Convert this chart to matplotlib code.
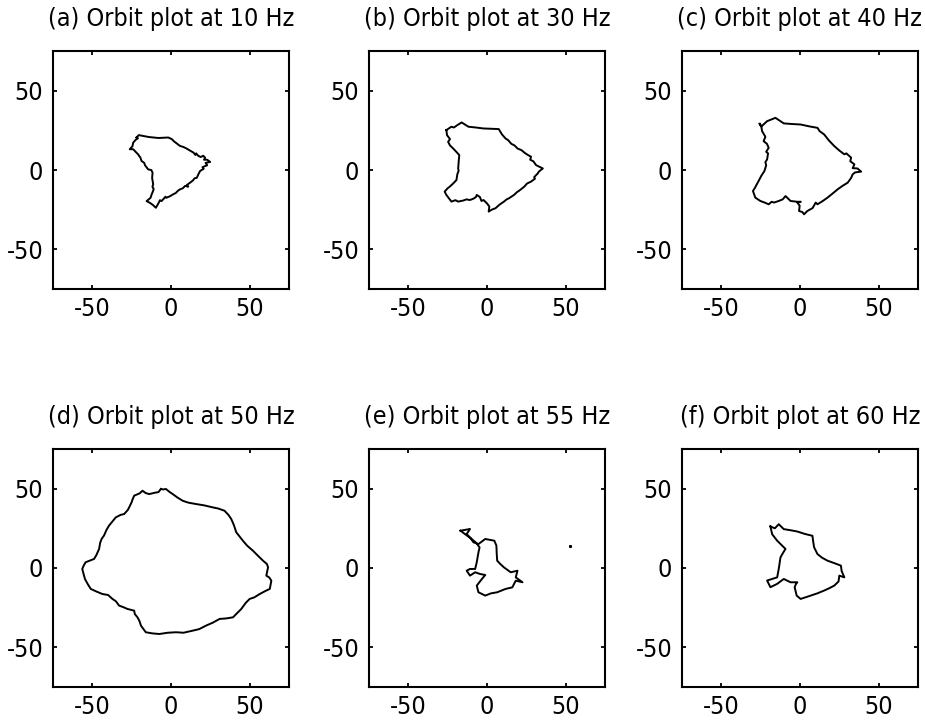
import numpy as np
import matplotlib.pyplot as plt

plt.rcParams['font.family'] = ['Liberation Sans Narrow', 'DejaVu Sans']
plt.rcParams['font.stretch'] = 'condensed'
plt.rcParams['axes.unicode_minus'] = False

titles = ["(a) Orbit plot at 10 Hz", "(b) Orbit plot at 30 Hz", "(c) Orbit plot at 40 Hz",
          "(d) Orbit plot at 50 Hz", "(e) Orbit plot at 55 Hz", "(f) Orbit plot at 60 Hz"]
ticks = [-50, 0, 50]

# orbit traces (x, y displacement)
xa = [-21.9, -20.5, -14.0, -8.0, -1.7, 0.5, 2.0, 4.0, 5.7, 8.0, 10.0, 12.0, 14.3, 15.5, 16.0, 17.4,
      19.0, 20.5, 21.7, 21.0, 23.0, 24.9, 22.0, 23.0, 21.7, 20.0, 20.8, 18.5, 17.5, 16.4, 15.0, 14.0,
      12.1, 10.0, 11.0, 9.0, 7.5, 5.7, 4.5, 3.0, 1.0, -0.6, -3.0, -3.5, -6.0, -7.0, -8.0, -9.6,
      -11.5, -13.4, -15.5, -13.0, -12.3, -11.5, -11.0, -11.8, -11.3, -12.0, -11.7, -12.5, -14.5, -16.5,
      -17.0, -18.7, -19.5, -20.0, -20.9, -22.5, -24.0, -26.2, -24.5, -24.0, -22.5, -21.0, -21.9]
ya = [20.5, 22.0, 20.8, 20.2, 20.5, 19.5, 18.0, 16.5, 15.2, 14.5, 13.5, 12.3, 11.0, 9.5, 10.5, 8.9,
      8.2, 9.0, 7.8, 6.5, 6.5, 5.1, 4.5, 3.0, 2.5, 1.8, 0.8, -0.6, -2.5, -4.9, -5.2, -6.5,
      -8.0, -9.5, -10.5, -10.0, -11.5, -12.2, -13.0, -14.5, -15.5, -16.5, -17.5, -16.8, -19.6, -19.0, -21.0, -23.8,
      -22.0, -20.7, -19.6, -17.5, -15.4, -13.5, -12.0, -10.5, -9.0, -5.0, -1.7, 0.0, 0.4, 3.0,
      4.5, 5.7, 8.0, 8.5, 9.9, 11.5, 13.1, 13.1, 15.0, 17.3, 19.0, 20.0, 20.5]

xb = [-25.8, -22.6, -21.0, -19.0, -16.1, -11.8, -7.0, -2.2, 3.0, 7.5, 9.5, 11.8, 13.5, 15.5, 17.5, 19.4,
      22.0, 24.0, 26.0, 28.0, 27.5, 29.5, 31.2, 35.5, 33.0, 32.3, 30.0, 30.5, 28.0, 25.5, 23.7, 20.5,
      19.0, 17.2, 14.0, 12.5, 10.8, 8.0, 5.4, 3.0, 1.1, 1.5, 0.0, -2.2, -3.5, -4.5, -6.5, -7.0,
      -8.5, -10.8, -13.0, -15.0, -18.3, -20.0, -22.6, -25.8, -26.9, -25.0, -23.7, -21.5, -19.4, -18.8, -18.0,
      -18.3, -18.0, -17.6, -19.5, -21.5, -23.5, -24.7, -23.5, -25.4, -25.8]
yb = [25.2, 27.3, 26.8, 28.2, 30.0, 27.3, 26.8, 26.2, 26.0, 25.8, 22.5, 19.9, 18.8, 16.5, 15.5, 13.6,
      12.5, 10.8, 9.5, 8.4, 6.5, 5.5, 3.1, 1.0, -1.0, -2.1, -4.5, -5.5, -7.3, -8.5, -10.5, -13.0,
      -14.0, -15.7, -17.8, -18.5, -19.9, -21.8, -24.1, -25.0, -26.2, -23.0, -21.0, -18.9, -19.5, -17.0, -15.7, -17.0,
      -18.0, -18.9, -18.5, -19.2, -19.9, -19.0, -19.9, -15.7, -13.6, -11.5, -10.5, -8.5, -6.3, -2.5, -0.5,
      1.0, 5.0, 9.4, 11.5, 13.6, 15.5, 17.8, 19.5, 22.0, 25.2]

xc = [-25.6, -24.5, -20.9, -15.6, -10.3, -5.0, 0.4, 6.0, 11.1, 12.5, 15.4, 18.5, 21.8, 25.0, 28.2, 29.5,
      32.5, 32.0, 34.6, 33.5, 36.5, 38.9, 35.0, 33.5, 32.5, 30.3, 27.0, 23.9, 20.5, 17.5, 14.5, 11.1,
      10.0, 8.0, 4.7, 2.6, 1.5, -0.6, -0.2, -1.7, 0.5, -1.7, -6.0, -9.2, -11.0, -13.5, -16.5, -18.0,
      -19.9, -22.5, -25.2, -28.4, -29.9, -28.5, -28.0, -26.3, -24.5, -22.6, -21.5, -22.0, -20.9, -20.3, -21.5,
      -19.9, -21.0, -23.1, -22.0, -24.1, -24.5, -25.6]
yc = [29.1, 27.5, 30.8, 32.9, 29.4, 29.0, 28.7, 27.5, 26.6, 24.5, 22.4, 18.5, 15.1, 12.3, 9.9, 10.5,
      7.8, 5.5, 3.6, 1.2, 1.0, -1.0, -1.5, -2.7, -5.0, -8.0, -10.0, -12.2, -15.0, -17.4, -19.5, -21.6,
      -20.5, -24.0, -25.8, -27.9, -26.5, -25.8, -22.5, -20.5, -20.0, -20.0, -19.5, -16.4, -18.5, -19.5, -20.5, -20.0,
      -21.6, -20.5, -19.5, -17.4, -13.2, -11.0, -10.0, -6.9, -3.5, -0.6, 3.0, 5.0, 6.7, 10.5, 11.5,
      14.0, 16.5, 18.2, 21.0, 24.5, 27.0, 29.1]

xd = [-6.4, -8.0, -10.0, -13.8, -16.0, -18.1, -20.0, -23.4, -24.5, -25.0, -26.6, -27.5, -29.8, -32.0, -35.1, -37.5,
      -39.4, -41.0, -42.6, -44.0, -45.0, -45.7, -47.5, -48.9, -52.0, -54.3, -55.5, -56.4, -55.5, -54.7, -53.0, -51.0,
      -47.0, -43.6, -40.0, -37.2, -35.0, -33.0, -30.0, -27.7, -23.4, -23.0, -21.3, -20.0, -19.1, -17.5, -16.0, -12.0,
      -7.4, -2.0, 3.2, 8.0, 13.8, 18.0, 22.3, 26.5, 30.9, 35.0, 39.4, 42.0, 44.7, 47.5, 50.0, 53.0,
      56.4, 60.0, 62.8, 63.8, 62.5, 60.6, 61.7, 61.0, 58.5, 55.0, 52.1, 48.5, 45.7, 43.5, 41.5, 40.0,
      38.3, 36.5, 34.0, 30.0, 26.6, 21.0, 16.0, 11.0, 7.4, 4.0, 1.1, -1.0, -3.2, -5.0, -6.4]
yd = [49.8, 47.8, 47.5, 46.6, 47.2, 48.7, 47.0, 45.6, 43.0, 41.5, 38.2, 36.5, 34.0, 33.5, 31.9, 29.0,
      26.7, 24.0, 20.4, 18.5, 16.0, 12.0, 8.0, 5.7, 4.5, 3.6, 1.5, -0.6, -4.0, -6.9, -10.0, -13.2,
      -15.0, -16.4, -17.0, -19.5, -21.0, -23.7, -24.8, -25.8, -26.9, -29.0, -31.1, -33.5, -36.3, -38.5, -40.5, -41.2,
      -41.6, -40.8, -40.5, -40.8, -39.5, -38.5, -36.3, -34.5, -32.1, -31.8, -31.1, -28.5, -25.8, -22.0, -19.5, -18.5,
      -16.4, -14.5, -13.2, -8.0, -6.0, -4.8, 0.4, 2.5, 4.6, 8.0, 10.9, 14.0, 17.2, 20.0, 22.5, 27.0,
      30.9, 33.5, 36.1, 37.5, 38.2, 39.5, 40.3, 41.2, 42.4, 44.5, 46.6, 48.0, 49.8, 49.5, 49.8]

xe = [-16.8, -10.8, -12.9, -10.5, -8.6, -5.4, -1.1, 4.7, 6.0, 6.2, 6.5, 8.5, 10.8, 15.1, 19.4, 18.3,
      22.6, 18.3, 16.1, 11.8, 6.5, 2.5, -1.1, -5.4, -6.5, -3.2, -1.1, -4.3, -7.5, -10.8, -12.9, -10.8,
      -7.5, -6.5, -5.4, -4.7, -7.0, -10.0, -13.5, -16.8]
ye = [23.5, 24.6, 21.4, 19.0, 16.2, 15.1, 18.3, 17.2, 14.1, 9.0, 4.6, 2.5, 0.4, -2.7, -1.7, -5.9,
      -9.0, -8.0, -12.2, -13.2, -15.3, -16.0, -17.4, -15.3, -11.1, -6.9, -4.4, -3.8, -2.7, -4.8, -1.7, -0.6,
      -0.6, 3.6, 9.9, 13.0, 16.0, 18.5, 21.0, 23.5]
# stray dot in panel (e)
dot_e = (53, 14)

xf = [-18.8, -16.0, -13.5, -10.3, -6.0, -1.7, 3.0, 7.9, 8.5, 9.0, 11.1, 14.0, 17.5, 22.0, 26.0, 26.5,
      28.2, 25.0, 24.5, 21.8, 18.5, 15.4, 11.0, 6.8, 0.4, -2.1, -3.4, -2.5, -1.7, -6.0, -10.3, -14.5,
      -18.8, -20.9, -14.5, -13.5, -12.4, -10.5, -9.2, -14.5, -17.7, -18.8]
yf = [26.2, 25.0, 27.6, 24.5, 23.8, 23.0, 21.5, 20.3, 16.0, 13.0, 8.8, 6.5, 4.6, 3.0, 1.5, -2.0,
      -5.9, -4.8, -8.5, -11.1, -12.8, -14.2, -16.0, -17.4, -19.5, -17.4, -12.1, -10.0, -9.0, -9.0, -6.9, -10.0,
      -12.1, -7.9, -5.9, -0.6, 6.7, 10.0, 12.0, 17.2, 21.3, 26.2]

orbits = [(xa, ya), (xb, yb), (xc, yc), (xd, yd), (xe, ye), (xf, yf)]

fig = plt.figure(figsize=(9.25, 7.22), dpi=100)
lefts = [0.0573, 0.3989, 0.7373]
bottoms = [0.5997, 0.0485]
w, h = 0.2551, 0.3296

for i in range(6):
    ax = fig.add_axes([lefts[i % 3], bottoms[i // 3], w, h])
    x, y = orbits[i]
    ax.plot(x, y, color='black', linewidth=1.4)
    if i == 4:
        ax.plot([dot_e[0]], [dot_e[1]], marker='s', markersize=1.2, color='black', linestyle='none')
    ax.set_xlim(-75, 75)
    ax.set_ylim(-75, 75)
    ax.set_xticks(ticks)
    ax.set_yticks(ticks)
    ax.tick_params(direction='in', top=True, right=True, length=3, width=1.3, labelsize=18)
    ax.tick_params(axis='x', pad=6)
    ax.tick_params(axis='y', pad=7)
    for s in ax.spines.values():
        s.set_linewidth(1.5)
    ax.set_title(titles[i], fontsize=18, pad=18)

fig.savefig('out.png', dpi=100)
